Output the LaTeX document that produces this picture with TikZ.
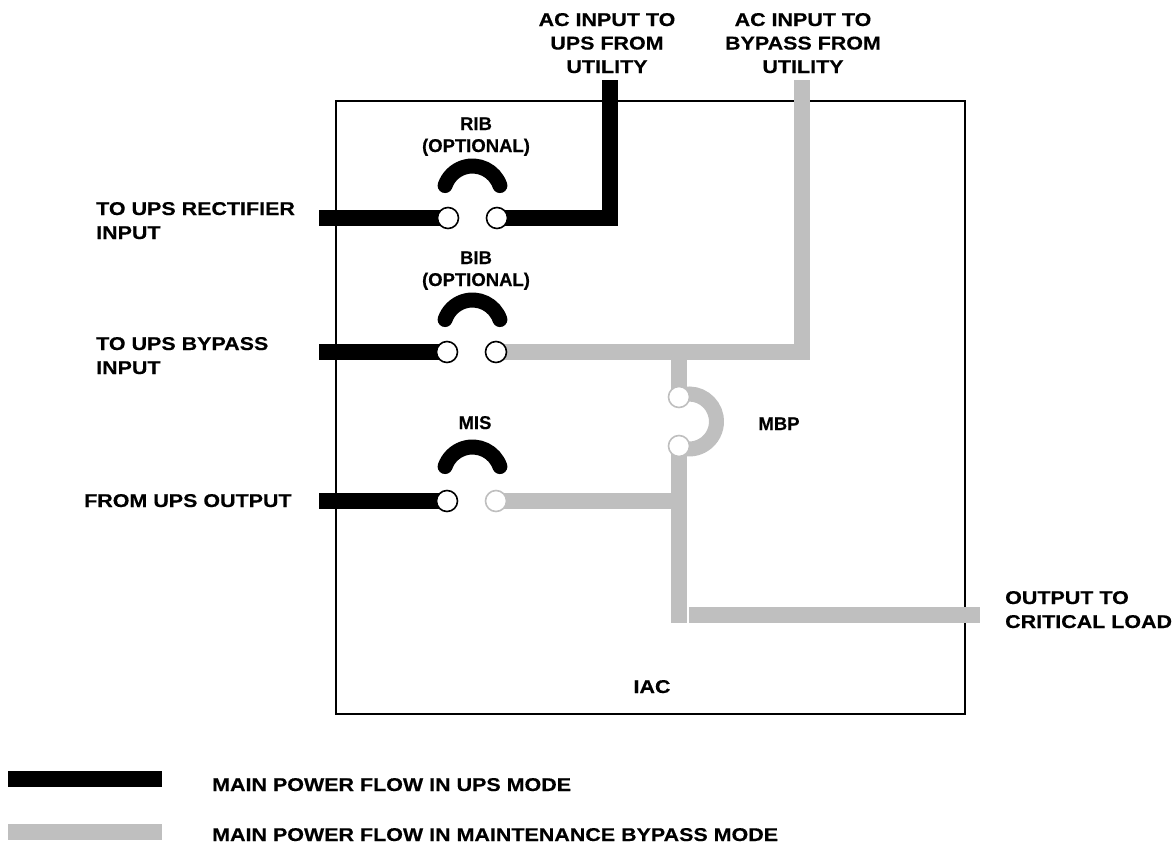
\documentclass[tikz,border=0pt]{standalone}
\usepackage{fontspec}
\setmainfont[FakeBold=0.3]{Liberation Sans}
\newfontfamily\widefont[FakeStretch=1.16,FakeBold=0.3]{Liberation Sans}
\usetikzlibrary{backgrounds}
\definecolor{bygray}{RGB}{191,191,191}
\begin{document}
\begin{tikzpicture}[x=1pt,y=-1pt,
  lbl/.style={font=\widefont\bfseries\fontsize{18.5}{22}\selectfont, inner sep=0pt},
  slbl/.style={font=\bfseries\fontsize{18.5}{22}\selectfont, inner sep=0pt},
  upsw/.style={line width=16pt, draw=black},
  byw/.style={line width=16pt, draw=bygray},
  jmp/.style={line width=15pt, line cap=round},
  term/.style={circle, minimum size=21pt, inner sep=0pt, line width=1.6pt, draw=black, fill=white},
  gterm/.style={term, draw=bygray},
  legbar/.style={draw=none, minimum width=154pt, minimum height=16pt, inner sep=0pt}]
\useasboundingbox (0,0) rectangle (1175,846);
% free wire ends
\coordinate (acups) at (610,80);
\coordinate (acbyp) at (802,80);
\coordinate (rectin) at (319,218);
\coordinate (bypin) at (319,352);
\coordinate (upsout) at (319,501);
\coordinate (rcorner) at (610,218);
\coordinate (bcorner) at (802,352);
\coordinate (tee) at (679,352);
\coordinate (misj) at (679,501);
\coordinate (vbot) at (679,622.7);
\coordinate (outA) at (689,614.7);
\coordinate (outB) at (980,614.7);
% terminals
\node[term] (r1) at (448,218) {};
\node[term] (r2) at (497,218) {};
\node[term] (b1) at (447,352) {};
\node[term] (b2) at (496,352) {};
\node[term] (m1) at (447,501) {};
\node[gterm] (m2) at (496,501) {};
\node[gterm] (p1) at (679,397) {};
\node[gterm] (p2) at (679,446) {};
\begin{pgfonlayer}{background}
  % enclosure
  \draw[line width=2pt] (336,101) rectangle (965,714);
  % wires
  \draw[upsw] (rectin) -- (r1.center);
  \draw[upsw] (r2.center) -- (rcorner) -- (acups);
  \draw[upsw] (bypin) -- (b1.center);
  \draw[byw] (b2.center) -- (bcorner) -- (acbyp);
  \draw[upsw] (upsout) -- (m1.center);
  \draw[byw] (m2.center) -- (misj);
  \draw[byw] (tee) -- (p1.center);
  \draw[byw] (p2.center) -- (vbot);
  \draw[byw] (outA) -- (outB);
  % MBP jumper
  \draw[draw=bygray, line width=15pt] (689,421.5) ++(-100:27.5) arc[start angle=-100, end angle=100, radius=27.5];
\end{pgfonlayer}
\node[lbl, anchor=base] (iac) at (652,693) {IAC};
% RIB / BIB / MIS jumpers
\draw[jmp] (472.5,195) ++(-19:29) arc[start angle=-19, end angle=-161, radius=29];
\draw[jmp] (472.5,329) ++(-19:29) arc[start angle=-19, end angle=-161, radius=29];
\draw[jmp] (472.5,476) ++(-19:29) arc[start angle=-19, end angle=-161, radius=29];
% labels
\node[slbl, anchor=base] (rib1) at (476,130) {RIB};
\node[slbl, anchor=base] (rib2) at (476,152) {(OPTIONAL)};
\node[slbl, anchor=base] (bib1) at (476,264) {BIB};
\node[slbl, anchor=base] (bib2) at (476,286) {(OPTIONAL)};
\node[slbl, anchor=base] (mis) at (475,429) {MIS};
\node[slbl, anchor=base] (mbp) at (779,430) {MBP};
\node[lbl, anchor=base] (ua) at (607,26) {AC INPUT TO};
\node[lbl, anchor=base] (ub) at (607,49.5) {UPS FROM};
\node[lbl, anchor=base] (uc) at (607,73) {UTILITY};
\node[lbl, anchor=base] (ba) at (803,26) {AC INPUT TO};
\node[lbl, anchor=base] (bb) at (803,49.5) {BYPASS FROM};
\node[lbl, anchor=base] (bc) at (803,73) {UTILITY};
\node[lbl, anchor=base west] (ra) at (96,215) {TO UPS RECTIFIER};
\node[lbl, anchor=base west] (rb) at (96,239) {INPUT};
\node[lbl, anchor=base west] (pa) at (96,350) {TO UPS BYPASS};
\node[lbl, anchor=base west] (pb) at (96,374) {INPUT};
\node[lbl, anchor=base west] (fo) at (84,507) {FROM UPS OUTPUT};
\node[lbl, anchor=base west] (oa) at (1005,604) {OUTPUT TO};
\node[lbl, anchor=base west] (ob) at (1005,628) {CRITICAL LOAD};
% legend
\node[legbar, fill=black] (legu) at (85,778.7) {};
\node[legbar, fill=bygray] (legb) at (85,832) {};
\node[lbl, anchor=base west] (legut) at (212,791) {MAIN POWER FLOW IN UPS MODE};
\node[lbl, anchor=base west] (legbt) at (212,841) {MAIN POWER FLOW IN MAINTENANCE BYPASS MODE};
\end{tikzpicture}
\end{document}
